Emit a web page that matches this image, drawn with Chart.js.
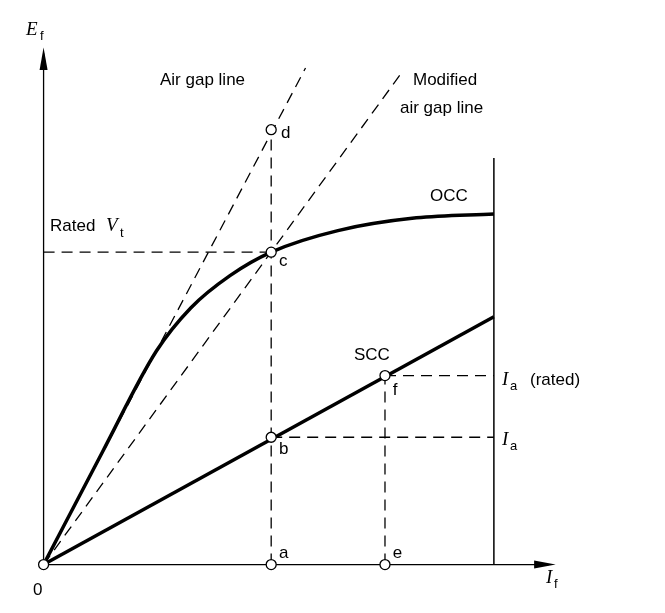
<!DOCTYPE html>
<html>
<head>
<meta charset="utf-8">
<script src="https://cdn.jsdelivr.net/npm/chart.js@4"></script>
<style>body{margin:0;background:#fff}</style>
</head>
<body>
<canvas id="c" width="665" height="613"></canvas>
<script>
// values in diagram units (origin at 0,0)
var occ = [[0,0],[60,115],[115,218],[150,262],[190,295],[232,319],[300,341],[380,354],[459,358]];
var scc = [[0,0],[459,253]];
var airGap = [[0,0],[267,507]];
var modAirGap = [[0,0],[367,505]];
var ratedLine = [[459,0],[459,415]];
var ratedVt = [[0,319],[232,319]];
var dropA = [[232,0],[232,444]];
var dropE = [[348,0],[348,193]];
var iaRated = [[348,193],[459,193]];
var iaLine = [[232,130],[459,130]];
var xAxis = [[0,0],[515,0]];
var yAxis = [[0,0],[0,522]];
var markers = [[0,0],[232,0],[232,130],[232,319],[232,444],[348,0],[348,193]];
var letters = [['d',242,440],['c',240,310],['b',240,118],['a',240,12],['e',356,12],['f',356,178]];

function pts(a){ return a.map(function(p){ return {x:p[0], y:p[1]}; }); }
function line(a, dash, w){
	return {type:'line', data:pts(a), borderColor:'#000', borderWidth:w||1.3, borderDash:dash?[11,7]:[], pointRadius:0, fill:false, tension:0, order:1};
}

var labels = {
	id:'labels',
	afterDatasetsDraw: function(chart){
		var ctx = chart.ctx, sx = chart.scales.x, sy = chart.scales.y;
		function X(v){ return sx.getPixelForValue(v); }
		function Y(v){ return sy.getPixelForValue(v); }
		ctx.fillStyle = '#000';
		ctx.textBaseline = 'middle';
		// arrow heads
		ctx.beginPath();
		ctx.moveTo(X(0), Y(528)); ctx.lineTo(X(0)-4, Y(505)); ctx.lineTo(X(0)+4, Y(505)); ctx.fill();
		ctx.beginPath();
		ctx.moveTo(X(522), Y(0)); ctx.lineTo(X(500), Y(0)-4); ctx.lineTo(X(500), Y(0)+4); ctx.fill();
		ctx.font = '17px "Liberation Sans", Arial';
		ctx.fillText('Air gap line', 160, 80);
		ctx.fillText('Modified', 413, 80);
		ctx.fillText('air gap line', 400, 108);
		ctx.fillText('OCC', 430, 196);
		ctx.fillText('SCC', 354, 355);
		ctx.fillText('Rated', 50, 226);
		ctx.fillText('0', 33, 590);
		ctx.fillText('(rated)', 530, 380);
		letters.forEach(function(l){ ctx.fillText(l[0], X(l[1]), Y(l[2])); });
		ctx.font = 'italic 19px "Liberation Serif", serif';
		ctx.fillText('V', 106, 226);
		ctx.fillText('E', 26, 30);
		ctx.fillText('I', 546, 578);
		ctx.fillText('I', 502, 380);
		ctx.fillText('I', 502, 440);
		ctx.font = '13px "Liberation Sans", Arial';
		ctx.fillText('t', 120, 233);
		ctx.fillText('f', 40, 36);
		ctx.fillText('f', 554, 584);
		ctx.fillText('a', 510, 386);
		ctx.fillText('a', 510, 446);
	}
};

new Chart(document.getElementById('c'), {
	type: 'scatter',
	data: {
		datasets: [
			line(xAxis, false, 1.3),
			line(yAxis, false, 1.3),
			line(ratedLine, false, 1.5),
			line(airGap, true),
			line(modAirGap, true),
			line(ratedVt, true),
			line(dropA, true),
			line(dropE, true),
			line(iaRated, true),
			line(iaLine, true),
			{type:'line', data:pts(occ), borderColor:'#000', borderWidth:3.5, pointRadius:0, fill:false, cubicInterpolationMode:'monotone', order:1},
			line(scc, false, 3.5),
			{data:pts(markers), pointRadius:5, pointBackgroundColor:'#fff', pointBorderColor:'#000', pointBorderWidth:1.3, order:0}
		]
	},
	options: {
		responsive: false,
		animation: false,
		layout: {padding: 0},
		plugins: {legend:{display:false}, tooltip:{enabled:false}},
		scales: {
			x: {type:'linear', min:-38, max:627, display:false},
			y: {type:'linear', min:-43, max:570, display:false}
		}
	},
	plugins: [labels]
});
</script>
</body>
</html>
